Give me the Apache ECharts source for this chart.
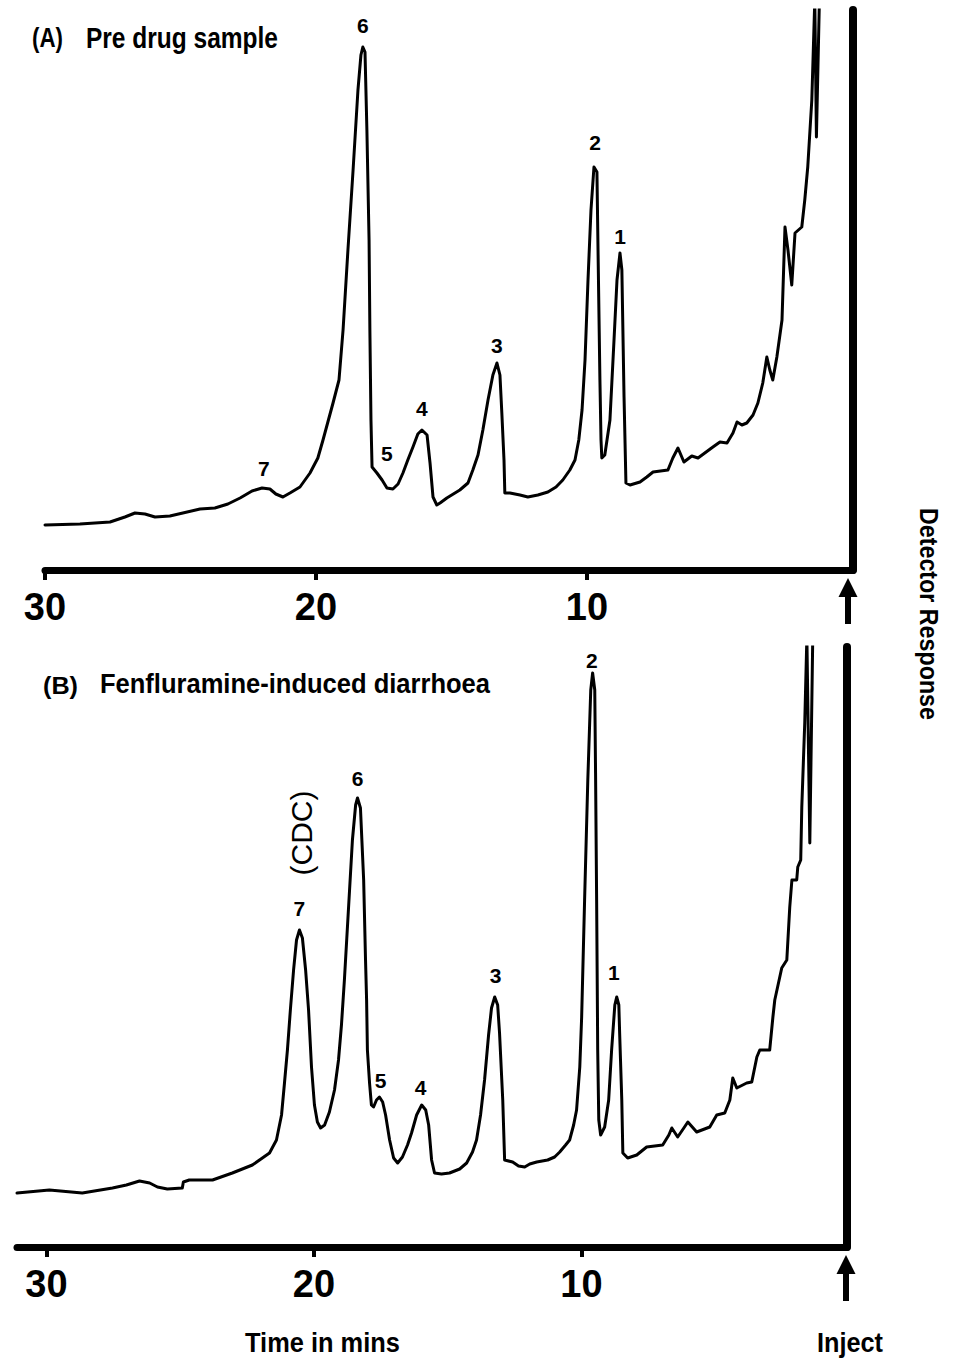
<!DOCTYPE html>
<html><head><meta charset="utf-8">
<script src="https://cdn.jsdelivr.net/npm/echarts@6/dist/echarts.min.js"></script>
<style>html,body{margin:0;padding:0;background:#fff}#c{width:956px;height:1362px}</style>
</head><body><div id="c"></div>
<script>
// ---------- Panel A: pre drug sample (time in min, detector response a.u.) ----------
const timeA = [
 30.00,28.71,27.60,27.05,26.68,26.31,25.94,25.39,24.28,23.73,
 23.25,22.80,22.36,21.99,21.70,21.48,21.22,20.96,20.59,20.22,
 19.93,19.74,19.56,19.37,19.15,19.00,18.82,18.63,18.45,18.34,
 18.27,18.19,18.12,18.04,18.01,17.97,17.93,17.75,17.56,17.38,
 17.16,16.97,16.79,16.61,16.42,16.24,16.09,15.90,15.79,15.68,
 15.54,15.42,15.17,14.69,14.39,14.21,14.02,13.84,13.65,13.47,
 13.32,13.21,13.14,13.06,13.03,12.84,12.47,12.18,11.81,11.44,
 11.14,10.89,10.63,10.44,10.30,10.18,10.07,9.96,9.85,9.74,
 9.63,9.59,9.52,9.48,9.45,9.34,9.15,9.00,8.89,8.78,
 8.71,8.63,8.56,8.41,8.04,7.79,7.56,7.01,6.83,6.64,
 6.42,6.13,5.90,5.35,5.09,4.83,4.61,4.46,4.28,4.10,
 3.87,3.69,3.51,3.36,3.25,3.14,2.99,2.80,2.69,2.58,
 2.44,2.32,2.07,1.96,1.85,1.70,1.59,1.53,1.42];
const respA = [
 45,46,48,53,57,56,53,54,61,62,
 66,72,79,82,81,76,73,77,83,97,
 112,130,148,167,190,240,320,400,480,515,
 523,518,440,330,240,150,103,97,90,82,
 81,86,97,110,123,136,140,135,107,73,
 65,67,72,80,87,100,115,140,170,195,
 207,195,157,110,77,77,75,73,75,78,
 83,90,100,110,130,160,210,290,360,403,
 398,320,190,130,112,115,150,230,290,317,
 300,173,87,85,88,93,98,100,112,122,
 108,114,112,123,128,127,137,148,145,147,
 155,167,187,213,200,190,213,250,343,320,
 285,337,343,370,403,470,570,433,570];
const peakNamesA = ['7','6','5','4','3','2','1'];
const peakTimesA = [21.92,18.27,17.38,16.09,13.32,9.70,8.78];
const peakLabelRespA = [102,545,117,162,225,428,334];

// ---------- Panel B: fenfluramine-induced diarrhoea ----------
const timeB = [
 31.10,29.89,28.66,27.53,27.01,26.52,26.14,25.85,25.48,24.92,
 24.88,24.66,23.79,23.05,22.30,21.66,21.40,21.21,21.10,20.99,
 20.88,20.76,20.65,20.54,20.43,20.31,20.20,20.09,19.98,19.87,
 19.75,19.60,19.42,19.23,19.08,18.97,18.86,18.71,18.56,18.44,
 18.37,18.26,18.14,18.07,18.03,18.00,17.92,17.85,17.77,17.66,
 17.55,17.43,17.32,17.17,17.02,16.87,16.69,16.50,16.35,16.16,
 15.97,15.82,15.71,15.60,15.49,15.23,14.93,14.55,14.29,14.07,
 13.92,13.77,13.62,13.47,13.36,13.24,13.13,13.06,12.94,12.87,
 12.57,12.35,12.12,11.93,11.67,11.26,11.00,10.81,10.59,10.44,
 10.29,10.18,10.06,9.99,9.88,9.76,9.65,9.58,9.50,9.47,
 9.43,9.39,9.35,9.28,9.13,8.98,8.87,8.75,8.68,8.60,
 8.57,8.49,8.45,8.27,7.93,7.56,6.96,6.73,6.62,6.40,
 6.17,6.02,5.69,5.20,4.94,4.64,4.45,4.34,4.19,3.82,
 3.63,3.44,3.33,2.96,2.84,2.77,2.51,2.32,2.21,2.13,
 1.95,1.91,1.80,1.76,1.65,1.57,1.46,1.35];
const respB = [
 54,57,54,59,62,66,64,60,58,59,
 65,67,67,74,82,94,107,132,164,197,
 237,277,307,317,309,277,237,180,142,125,
 119,122,135,157,187,222,267,337,407,442,
 449,439,367,287,247,197,164,142,140,147,
 150,145,132,107,89,84,90,102,114,132,
 142,137,122,87,74,73,74,78,84,95,
 107,132,167,212,239,250,242,214,147,87,
 85,81,80,83,85,87,90,95,102,107,
 122,137,180,230,347,467,557,574,557,474,
 347,197,127,112,120,147,197,242,250,242,
 214,147,94,89,92,100,102,112,119,110,
 119,125,115,120,132,134,147,169,159,164,
 165,190,197,197,230,247,279,287,340,367,
 367,380,387,440,524,610,404,610];
const peakNamesB = ['7','6','5','4','3','2','1'];
const peakTimesB = [20.54,18.37,17.51,16.01,13.21,9.61,8.79];
const peakLabelRespB = [339,469,167,160,272,587,275];
const cdcLabel = '(CDC)';
const cdcTime = 20.46, cdcResp = 414;

// axis ticks / extents
const tickValues = [10, 20, 30];
const tickLabels = ['10', '20', '30'];
const injectA = 0.18, endA = 30;   // pen position of injection mark in panel A
const injectB = 0.07, endB = 31.1; // panel B
const maxRespA = 560, maxRespB = 600;

const FONT = "'Liberation Sans', Arial, sans-serif";
const chart = echarts.init(document.getElementById('c'), null, {renderer: 'svg'});

function pairs(t, v) { return t.map((x, i) => [x, v[i]]); }
function labelData(names, t, v) { return names.map((n, i) => ({name: n, value: [t[i], v[i]]})); }

const mctx = document.createElement('canvas').getContext('2d');
function fit(text, font, w) { mctx.font = font; return w / mctx.measureText(text).width; }

function xAxisCfg(grid, min, max) {
  return {
    type: 'value', gridIndex: grid, inverse: true, min: min, max: max,
    axisLine: {onZero: false, lineStyle: {color: '#000', width: 7}},
    axisTick: {customValues: tickValues, length: 10, lineStyle: {color: '#000', width: 4}},
    axisLabel: {customValues: tickValues, formatter: v => tickLabels[tickValues.indexOf(v)] || '',
      fontSize: 38, fontWeight: 'bold', color: '#000', margin: 18, fontFamily: FONT},
    splitLine: {show: false}
  };
}
function yAxisCfg(grid, max) {
  return {
    type: 'value', gridIndex: grid, min: 0, max: max, position: 'right',
    axisLine: {show: true, onZero: false, lineStyle: {color: '#000', width: 8}},
    axisTick: {show: false}, axisLabel: {show: false}, splitLine: {show: false}
  };
}
const traceStyle = {type: 'line', showSymbol: false, symbol: 'none', clip: true, silent: true,
  lineStyle: {color: '#000', width: 3, join: 'round', cap: 'round'}};
const peakLabelStyle = {type: 'scatter', symbolSize: 0, silent: true,
  itemStyle: {opacity: 1, color: '#000'},
  label: {show: true, position: 'inside', formatter: '{b}', color: '#000', opacity: 1,
    textBorderWidth: 0, fontSize: 21, fontWeight: 'bold', fontFamily: FONT}};

chart.setOption({
  backgroundColor: '#fff',
  animation: false,
  grid: [
    {left: 45, right: 956 - 853, top: 10, bottom: 1362 - 570},
    {left: 17, right: 956 - 847, top: 647, bottom: 1362 - 1247}
  ],
  xAxis: [xAxisCfg(0, injectA, endA), xAxisCfg(1, injectB, endB)],
  yAxis: [yAxisCfg(0, maxRespA), yAxisCfg(1, maxRespB)],
  series: [
    Object.assign({}, traceStyle, {name: 'Pre drug sample', xAxisIndex: 0, yAxisIndex: 0, data: pairs(timeA, respA)}),
    Object.assign({}, traceStyle, {name: 'Fenfluramine-induced diarrhoea', xAxisIndex: 1, yAxisIndex: 1, data: pairs(timeB, respB)}),
    Object.assign({}, peakLabelStyle, {xAxisIndex: 0, yAxisIndex: 0, data: labelData(peakNamesA, peakTimesA, peakLabelRespA)}),
    Object.assign({}, peakLabelStyle, {xAxisIndex: 1, yAxisIndex: 1, data: labelData(peakNamesB, peakTimesB, peakLabelRespB)}),
    {type: 'scatter', symbolSize: 0, silent: true, xAxisIndex: 1, yAxisIndex: 1,
      itemStyle: {opacity: 1, color: '#000'},
      data: [{name: cdcLabel, value: [cdcTime, cdcResp]}],
      label: {show: true, position: 'inside', formatter: '{b}', rotate: 90, color: '#000', opacity: 1,
        textBorderWidth: 0, fontSize: 30, fontWeight: 'normal', fontFamily: FONT}}
  ]
});

// texts and inject arrows
function txt(text, x, y, w, size, weight, rot) {
  const font = weight + ' ' + size + 'px ' + FONT;
  const s = fit(text, font, w);
  const el = {type: 'text', x: x, y: y, scaleX: s, silent: true,
    style: {text: text, font: font, fill: '#000', textAlign: rot ? 'center' : 'left', textVerticalAlign: 'middle'}};
  if (rot) el.rotation = rot;
  return el;
}
function arrow(px, py) {
  const tip = py + 8, head = tip + 19, end = tip + 46, hw = 9.5, sw = 3;
  return {type: 'polygon', silent: true, style: {fill: '#000'},
    shape: {points: [[px, tip], [px + hw, head], [px + sw, head], [px + sw, end], [px - sw, end], [px - sw, head], [px - hw, head]]}};
}
const pA = chart.convertToPixel({gridIndex: 0}, [injectA, 0]);
const pB = chart.convertToPixel({gridIndex: 1}, [injectB, 0]);
chart.setOption({graphic: [
  txt('(A)', 32, 37, 31, 28, 'bold'),
  txt('Pre drug sample', 86, 38, 192, 30, 'bold'),
  txt('(B)', 43, 686, 35, 24, 'bold'),
  txt('Fenfluramine-induced diarrhoea', 100, 684, 390, 28, 'bold'),
  txt('Time in mins', 245, 1343, 155, 28, 'bold'),
  txt('Inject', 817, 1343, 66, 28, 'bold'),
  txt('Detector Response', 929, 614, 212, 26, 'bold', -Math.PI / 2),
  arrow(pA[0] - 5, pA[1]),
  arrow(pB[0] - 1, pB[1])
]});
</script></body></html>
